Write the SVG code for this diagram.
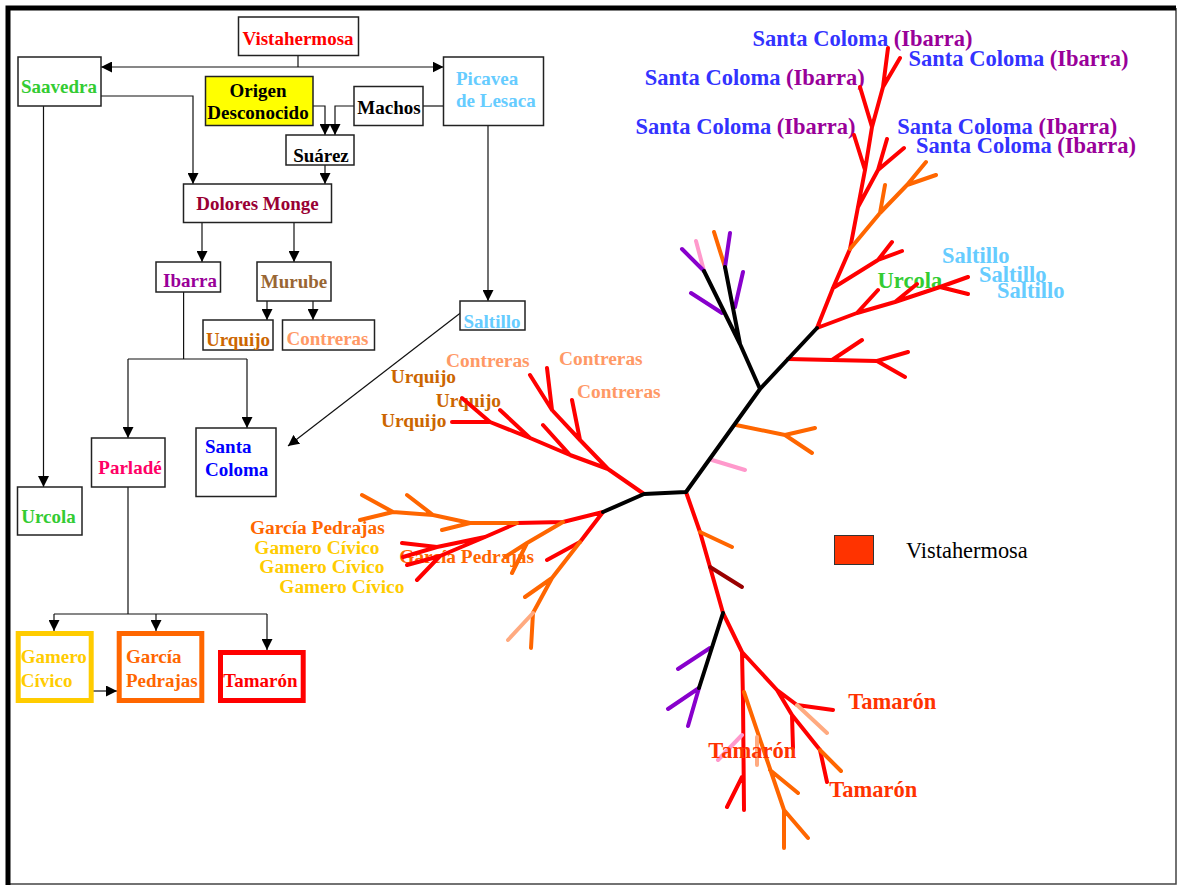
<svg xmlns="http://www.w3.org/2000/svg" width="1178" height="886" viewBox="0 0 1178 886">
<defs>
<style>
.box{fill:#fff;stroke:#222;stroke-width:1.5}
.t{font-family:"Liberation Serif","Times New Roman",serif;font-weight:bold;font-size:19px}
.tl{font-family:"Liberation Serif","Times New Roman",serif;font-weight:bold;font-size:22.5px}
.ts{font-family:"Liberation Serif","Times New Roman",serif;font-weight:bold;font-size:19.4px}
.c{fill:none;stroke:#111;stroke-width:1.2}
.br{fill:none;stroke-width:4;stroke-linecap:round;stroke-linejoin:round}
.m{text-anchor:middle}
</style>
<marker id="ah" viewBox="0 0 10 10" refX="10" refY="5" markerWidth="11" markerHeight="11" markerUnits="userSpaceOnUse" orient="auto"><path d="M0,0L10,5L0,10z" fill="#000"/></marker>
</defs>
<rect x="0" y="0" width="1178" height="886" fill="#fff"/>
<path d="M8,884 H1176 V8" fill="none" stroke="#444" stroke-width="1.5"/>
<path d="M8,885 V8 H1176" fill="none" stroke="#000" stroke-width="5"/>

<g id="connectors">
<path class="c" d="M298,55.5 V67"/>
<path class="c" d="M298,67 H101" marker-end="url(#ah)"/>
<path class="c" d="M298,67 H443.5" marker-end="url(#ah)"/>
<path class="c" d="M101,96 H193 V184" marker-end="url(#ah)"/>
<path class="c" d="M313,106 H325 V135" marker-end="url(#ah)"/>
<path class="c" d="M354,106 H335 V135" marker-end="url(#ah)"/>
<path class="c" d="M423,106 H443.5"/>
<path class="c" d="M325,165 V184" marker-end="url(#ah)"/>
<path class="c" d="M43.5,106 V487" marker-end="url(#ah)"/>
<path class="c" d="M488,125.5 V301" marker-end="url(#ah)"/>
<path class="c" d="M202,222.5 V262" marker-end="url(#ah)"/>
<path class="c" d="M294,222.5 V262" marker-end="url(#ah)"/>
<path class="c" d="M267,301 V320" marker-end="url(#ah)"/>
<path class="c" d="M313,301 V320" marker-end="url(#ah)"/>
<path class="c" d="M183.6,292 V359 M128,359 H247"/>
<path class="c" d="M128,359 V438" marker-end="url(#ah)"/>
<path class="c" d="M247,359 V428" marker-end="url(#ah)"/>
<path class="c" d="M463,311 L288,446" marker-end="url(#ah)"/>
<path class="c" d="M128,487 V614 M54,614 H267"/>
<path class="c" d="M54,614 V631" marker-end="url(#ah)"/>
<path class="c" d="M156,614 V631" marker-end="url(#ah)"/>
<path class="c" d="M267,614 V650" marker-end="url(#ah)"/>
<path class="c" d="M89,691 H117" marker-end="url(#ah)"/>
</g>

<g id="n-vistahermosa"><rect class="box" x="238.5" y="17" width="120" height="38.5"/><text class="t m" x="298" y="44.5" fill="#FF0000">Vistahermosa</text></g>
<g id="n-saavedra"><rect class="box" x="18" y="57" width="83" height="49"/><text class="t m" x="59" y="93.3" fill="#33CC33">Saavedra</text></g>
<g id="n-picavea"><rect class="box" x="443.5" y="57" width="100" height="68.5"/><text class="t" x="456" y="85" fill="#66CCFF">Picavea</text><text class="t" x="456" y="107.3" fill="#66CCFF">de Lesaca</text></g>
<g id="n-origen"><rect x="205.5" y="76.5" width="107.5" height="49" fill="#FFFF00" stroke="#222" stroke-width="1.5"/><text class="t m" x="258" y="96.7" fill="#000">Origen</text><text class="t m" x="258" y="119.3" fill="#000">Desconocido</text></g>
<g id="n-machos"><rect class="box" x="354" y="86.5" width="69" height="39"/><text class="t m" x="389" y="114" fill="#000">Machos</text></g>
<g id="n-suarez"><rect class="box" x="286" y="135" width="68" height="30"/><text class="t m" x="321" y="162" fill="#000">Suárez</text></g>
<g id="n-dolores"><rect class="box" x="183.5" y="184" width="148" height="38.5"/><text class="t m" x="257.5" y="210" fill="#990033">Dolores Monge</text></g>
<g id="n-ibarra"><rect class="box" x="156" y="262" width="64.5" height="30"/><text class="t m" x="190" y="287.3" fill="#990099">Ibarra</text></g>
<g id="n-murube"><rect class="box" x="257" y="262" width="74" height="39"/><text class="t m" x="294" y="288.3" fill="#996633">Murube</text></g>
<g id="n-urquijo"><rect class="box" x="203" y="320" width="70" height="30"/><text class="t m" x="238" y="346" fill="#CC6600">Urquijo</text></g>
<g id="n-contreras"><rect class="box" x="282.5" y="320" width="92" height="30"/><text class="t m" x="327.5" y="345.3" fill="#FF9966">Contreras</text></g>
<g id="n-saltillo"><rect class="box" x="460" y="301" width="65" height="29"/><text class="t m" x="492" y="328.3" fill="#66CCFF">Saltillo</text></g>
<g id="n-santacoloma"><rect class="box" x="196" y="428" width="80" height="68.5"/><text class="t" x="205" y="453.3" fill="#0000FF">Santa</text><text class="t" x="205" y="476" fill="#0000FF">Coloma</text></g>
<g id="n-parlade"><rect class="box" x="91.5" y="438" width="73.5" height="49"/><text class="t m" x="130" y="474.3" fill="#FF0066">Parladé</text></g>
<g id="n-urcola"><rect class="box" x="17.5" y="487" width="64.5" height="48"/><text class="t m" x="48.5" y="523.3" fill="#33CC33">Urcola</text></g>
<g id="n-gamero"><rect x="18.2" y="633.5" width="73" height="67" fill="#fff" stroke="#FFCC00" stroke-width="5"/><text class="t" x="20.7" y="663.3" fill="#FFCC00">Gamero</text><text class="t" x="20.7" y="686.7" fill="#FFCC00">Cívico</text></g>
<g id="n-garcia"><rect x="119.2" y="633.5" width="82.6" height="67" fill="#fff" stroke="#FF6600" stroke-width="5"/><text class="t" x="126" y="662.7" fill="#FF6600">García</text><text class="t" x="126" y="686.7" fill="#FF6600">Pedrajas</text></g>
<g id="n-tamaron"><rect x="220.5" y="652.5" width="82.7" height="48" fill="#fff" stroke="#FF0000" stroke-width="5"/><text class="t" x="223.3" y="686.7" fill="#FF0000">Tamarón</text></g>

<g id="tree-labels">
<text class="tl" x="752.6" y="46" fill="#3333FF">Santa Coloma <tspan fill="#990099">(Ibarra)</tspan></text>
<text class="tl" x="908.6" y="65.7" fill="#3333FF">Santa Coloma <tspan fill="#990099">(Ibarra)</tspan></text>
<text class="tl" x="644.8" y="85" fill="#3333FF">Santa Coloma <tspan fill="#990099">(Ibarra)</tspan></text>
<text class="tl" x="635.5" y="134" fill="#3333FF">Santa Coloma <tspan fill="#990099">(Ibarra)</tspan></text>
<text class="tl" x="897.2" y="134" fill="#3333FF">Santa Coloma <tspan fill="#990099">(Ibarra)</tspan></text>
<text class="tl" x="916.1" y="153.3" fill="#3333FF">Santa Coloma <tspan fill="#990099">(Ibarra)</tspan></text>
<text class="tl" x="942" y="263.3" fill="#66CCFF">Saltillo</text>
<text class="tl" x="979" y="281.7" fill="#66CCFF">Saltillo</text>
<text class="tl" x="997" y="298" fill="#66CCFF">Saltillo</text>
<text class="tl" x="877.6" y="288.3" fill="#33CC33">Urcola</text>
<text class="ts" x="446" y="367" fill="#FF9966">Contreras</text>
<text class="ts" x="559" y="365" fill="#FF9966">Contreras</text>
<text class="ts" x="577" y="398" fill="#FF9966">Contreras</text>
<text class="ts" x="390.7" y="383.3" fill="#CC6600">Urquijo</text>
<text class="ts" x="435.7" y="406.7" fill="#CC6600">Urquijo</text>
<text class="ts" x="381" y="426.7" fill="#CC6600">Urquijo</text>
<text class="ts" x="250" y="534" fill="#FF6600">García Pedrajas</text>
<text class="ts" x="254.3" y="554" fill="#FFCC00">Gamero Cívico</text>
<text class="ts" x="259.3" y="573.3" fill="#FFCC00">Gamero Cívico</text>
<text class="ts" x="279.3" y="592.7" fill="#FFCC00">Gamero Cívico</text>
<text class="ts" x="399.3" y="563.3" fill="#FF6600">García Pedrajas</text>
</g>

<g id="tree">
<path class="br" stroke="#FF0000" d="M817,328 L833,288 L850,249 L858,207 L865,170 L872,127 L883,87 L888,48 M865,170 L854,135 M872,127 L860,87 M883,87 L900,58 M858,207 L878,170 L887,139 M878,170 L904,148 M833,288 L878,260 L892,242 M878,260 L902,251 M817,328 L857,313 L878,290 M857,313 L895,302 L940,287 L968,277 M940,287 L968,294 M895,302 L917,284 M788,359 L832,360 L877,361 L908,352 M877,361 L905,377 M832,360 L862,340 M686,492 L700,532 L710,567 L723,613 L742,652 L743,700 L744,810 M742,652 L777,690 L797,705 L833,710 M777,690 L792,715 L820,750 L827,782 M792,715 L793,748 M742,777 L727,807 M644,494 L608,469 L570,455 L530,438 L490,422 L452,422 M490,422 L462,398 M530,438 L500,410 M570,455 L543,425 M608,469 L580,440 L552,410 L530,375 M552,410 L547,368 M580,440 L572,400 M603,512 L563,522 L517,523 M517,523 L485,537 L437,547 L402,543 M437,547 L403,557 M485,537 L440,556 L407,565 M440,556 L417,580 M603,512 L580,542 L547,560"/>
<path class="br" stroke="#FF6600" d="M714,232 L725,267 M850,249 L880,213 L907,185 L926,162 M907,185 L936,175 M880,213 L885,185 M736,425 L785,435 L815,428 M785,435 L812,453 M700,532 L732,547 M744,692 L767,760 L784,810 L784,848 M770,770 L798,793 M784,810 L808,838 M820,750 L841,771 M517,523 L470,523 L433,515 L393,512 L362,495 M393,512 L360,520 M433,515 L407,495 M470,523 L442,530 M580,542 L552,578 L533,613 L531,648 M552,578 L525,597 M563,522 L527,543 L512,573 M527,543 L505,557"/>
<path class="br" stroke="#FFAA80" d="M533,613 L508,640 M797,705 L827,733 M757,737 L757,765"/>
<path class="br" stroke="#FF99CC" d="M696,241 L704,271 M712,460 L745,470 M742,735 L718,760"/>
<path class="br" stroke="#8800CC" d="M682,249 L704,271 M691,293 L722,313 M730,233 L725,267 M743,272 L735,307 M710,648 L678,669 M699,688 L668,709 M699,688 L688,726"/>
<path class="br" stroke="#990000" d="M710,567 L742,587"/>
<path class="br" stroke="#000000" d="M686,492 L644,494 L603,512 M686,492 L760,389 L817,328 M760,389 L740,344 L704,271 M740,344 L725,267 M723,613 L699,688"/>
</g>

<g id="tree-labels-top">
<text class="tl" x="848.3" y="709.3" fill="#FF3300">Tamarón</text>
<text class="tl" x="708.3" y="758.3" fill="#FF3300">Tamarón</text>
<text class="tl" x="829.3" y="797.3" fill="#FF3300">Tamarón</text>
</g>

<g id="legend">
<rect x="834.5" y="535.5" width="39" height="29" fill="#FF3300" stroke="#333" stroke-width="1"/>
<text x="906" y="558" font-family="Liberation Serif, Times New Roman, serif" font-size="22.4" fill="#000">Vistahermosa</text>
</g>
</svg>
